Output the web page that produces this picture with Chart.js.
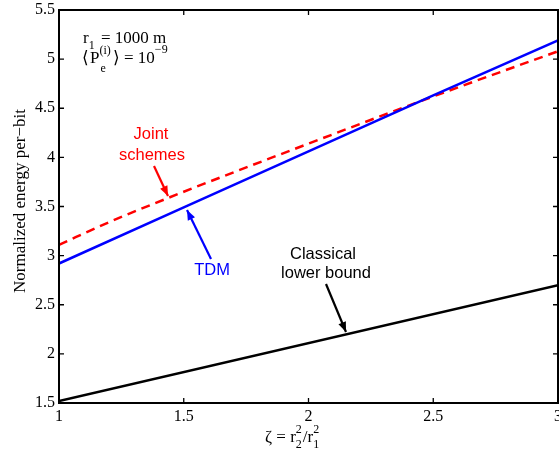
<!DOCTYPE html>
<html><head><meta charset="utf-8">
<script src="https://cdn.jsdelivr.net/npm/chart.js@4/dist/chart.umd.min.js"></script>
<style>html,body{margin:0;padding:0;background:#fff}#wrap{width:559px;height:453px}</style>
</head><body><div id="wrap"><canvas id="c" width="559" height="453"></canvas></div>
<script>
// ---- data ----
const tdmX = [1, 1.5, 2, 2.5, 3];
const tdmY = [2.92, 3.49, 4.06, 4.63, 5.19];
const jointX = [1, 1.2, 1.5, 2, 2.5, 3];
const jointY = [3.11, 3.34, 3.65, 4.14, 4.62, 5.08];
const lowerX = [1, 3];
const lowerY = [1.52, 2.70];
const xTicks = [1, 1.5, 2, 2.5, 3];
const yTicks = [1.5, 2, 2.5, 3, 3.5, 4, 4.5, 5, 5.5];

const pts = (xs, ys) => xs.map((x, i) => ({x, y: ys[i]}));
const SERIF = '"Liberation Serif","Times New Roman",serif';
const SANS = '"Liberation Sans",Arial,sans-serif';

function arrow(ctx, x1, y1, x2, y2, color) {
  ctx.save();
  ctx.strokeStyle = color; ctx.fillStyle = color; ctx.lineWidth = 2.2;
  ctx.beginPath(); ctx.moveTo(x1, y1); ctx.lineTo(x2, y2); ctx.stroke();
  const a = Math.atan2(y2 - y1, x2 - x1), L = 10, W = 4;
  ctx.beginPath();
  ctx.moveTo(x2, y2);
  ctx.lineTo(x2 - L*Math.cos(a) + W*Math.sin(a), y2 - L*Math.sin(a) - W*Math.cos(a));
  ctx.lineTo(x2 - L*Math.cos(a) - W*Math.sin(a), y2 - L*Math.sin(a) + W*Math.cos(a));
  ctx.closePath(); ctx.fill();
  ctx.restore();
}

const deco = {
  id: 'deco',
  afterDraw(chart) {
    const ctx = chart.ctx, a = chart.chartArea, xs = chart.scales.x, ys = chart.scales.y;
    ctx.save();
    // box
    ctx.strokeStyle = '#000'; ctx.lineWidth = 2;
    ctx.strokeRect(a.left, a.top, a.right - a.left, a.bottom - a.top);
    // inner ticks
    ctx.lineWidth = 1.3;
    ctx.beginPath();
    xTicks.forEach(v => { const p = xs.getPixelForValue(v);
      ctx.moveTo(p, a.bottom); ctx.lineTo(p, a.bottom - 5);
      ctx.moveTo(p, a.top); ctx.lineTo(p, a.top + 5); });
    yTicks.forEach(v => { const p = ys.getPixelForValue(v);
      ctx.moveTo(a.left, p); ctx.lineTo(a.left + 5, p);
      ctx.moveTo(a.right, p); ctx.lineTo(a.right - 5, p); });
    ctx.stroke();

    // y title
    ctx.fillStyle = '#000';
    ctx.font = '17px ' + SERIF;
    ctx.save();
    ctx.translate(21, 201);
    ctx.rotate(-Math.PI / 2);
    ctx.textAlign = 'center'; ctx.textBaseline = 'middle';
    ctx.fillText('Normalized energy per\u2212bit', 0, 0);
    ctx.restore();

    // x title: ζ = r2^2 / r1^2
    ctx.textAlign = 'left'; ctx.textBaseline = 'alphabetic';
    let x = 265, base = 442;
    const big = '17px ' + SERIF, small = '12px ' + SERIF;
    ctx.font = big; ctx.fillText('\u03B6 = r', x, base); x += ctx.measureText('\u03B6 = r').width;
    ctx.font = small; ctx.fillText('2', x, base - 9); ctx.fillText('2', x, base + 6); x += ctx.measureText('2').width + 1;
    ctx.font = big; ctx.fillText('/r', x, base); x += ctx.measureText('/r').width;
    ctx.font = small; ctx.fillText('2', x, base - 9); ctx.fillText('1', x, base + 6);

    // top-left text
    const mid = '17px ' + SERIF, sm2 = '12px ' + SERIF;
    x = 83; base = 43;
    ctx.font = mid; ctx.fillText('r', x, base); x += ctx.measureText('r').width;
    ctx.font = sm2; ctx.fillText('1', x, base + 6);
    ctx.font = mid; ctx.fillText('= 1000 m', 101, base);
    x = 82; base = 63;
    ctx.fillText('\u27E8', x, base); x += ctx.measureText('\u27E8').width + 1;
    ctx.fillText('P', x, base); x += ctx.measureText('P').width;
    ctx.font = sm2; ctx.fillText('(i)', x, base - 9); ctx.fillText('e', x + 1, base + 9);
    x += ctx.measureText('(i)').width + 2;
    ctx.font = mid; ctx.fillText('\u27E9 = 10', x, base); x += ctx.measureText('\u27E9 = 10').width;
    ctx.font = sm2; ctx.fillText('\u22129', x, base - 10);

    // annotations
    ctx.font = '16.5px ' + SANS; ctx.textAlign = 'center';
    ctx.fillStyle = '#ff0000';
    ctx.fillText('Joint', 151, 139); ctx.fillText('schemes', 152, 160);
    arrow(ctx, 154, 166, 168, 196, '#ff0000');
    ctx.fillStyle = '#0000ff';
    ctx.fillText('TDM', 212, 275);
    arrow(ctx, 211, 259, 187, 210, '#0000ff');
    ctx.fillStyle = '#000';
    ctx.fillText('Classical', 323, 259); ctx.fillText('lower bound', 326, 278);
    arrow(ctx, 326, 284, 346, 332, '#000');
    ctx.restore();
  }
};

new Chart(document.getElementById('c'), {
  type: 'scatter',
  data: { datasets: [
    { label: 'Classical lower bound', data: pts(lowerX, lowerY), showLine: true, borderColor: '#000', borderWidth: 2.5, pointRadius: 0 },
    { label: 'TDM', data: pts(tdmX, tdmY), showLine: true, borderColor: '#0000ff', borderWidth: 2.5, pointRadius: 0 },
    { label: 'Joint schemes', data: pts(jointX, jointY), showLine: true, borderColor: '#ff0000', borderWidth: 2.5, borderDash: [9, 6], pointRadius: 0, cubicInterpolationMode: 'monotone' }
  ]},
  options: {
    responsive: false, animation: false, devicePixelRatio: 1,
    layout: { padding: { top: 10, right: 1, left: 0, bottom: 0 } },
    plugins: { legend: { display: false }, tooltip: { enabled: false } },
    scales: {
      x: { type: 'linear', min: 1, max: 3,
        afterFit(s) { s.height = 50; s.paddingRight = 0; s.paddingLeft = 0; },
        afterBuildTicks(s) { s.ticks = xTicks.map(v => ({value: v})); },
        grid: { display: false, drawTicks: false }, border: { display: false },
        ticks: { color: '#000', font: { family: SERIF, size: 16 }, padding: 4, maxRotation: 0, autoSkip: false, callback: v => String(v) } },
      y: { type: 'linear', min: 1.5, max: 5.5,
        afterFit(s) { s.width = 59; s.paddingTop = 0; s.paddingBottom = 0; },
        afterBuildTicks(s) { s.ticks = yTicks.map(v => ({value: v})); },
        grid: { display: false, drawTicks: false }, border: { display: false },
        ticks: { color: '#000', font: { family: SERIF, size: 16 }, padding: 4, autoSkip: false, callback: v => String(v) } }
    }
  },
  plugins: [deco]
});
</script></body></html>
